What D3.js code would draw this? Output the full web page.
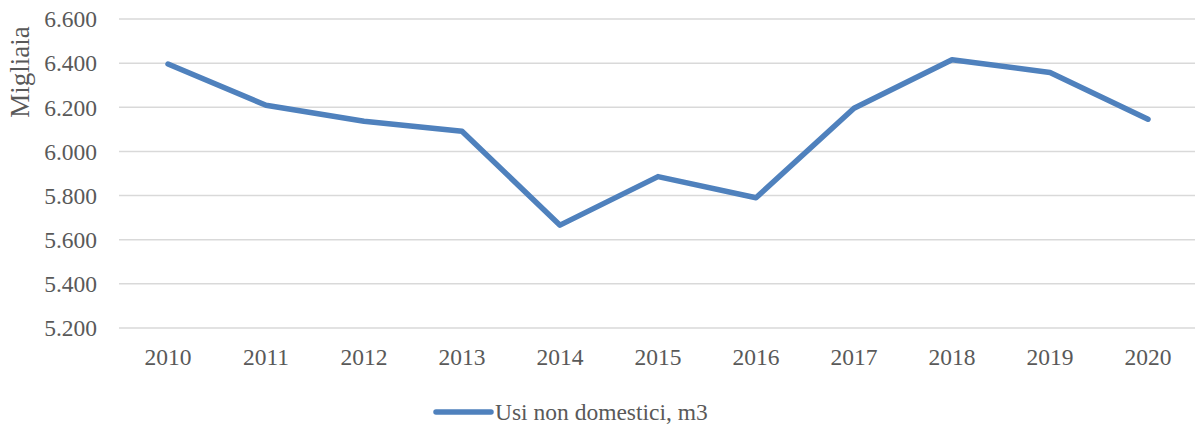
<!DOCTYPE html>
<html>
<head>
    <meta charset="utf-8">
    <script src="https://d3js.org/d3.v7.min.js"></script>
    <style>
        body { margin: 0; background: #fff; }
        text { font-family: "Liberation Serif", "Times New Roman", serif; fill: #595959; }
    </style>
</head>
<body>
    <script>
        // Data
        var years = ["2010", "2011", "2012", "2013", "2014", "2015", "2016", "2017", "2018", "2019", "2020"];
        var values = [6396, 6209, 6137, 6091, 5666, 5886, 5790, 6196, 6415, 6358, 6146];
        var yTicks = [5200, 5400, 5600, 5800, 6000, 6200, 6400, 6600];
        var seriesName = "Usi non domestici, m3";
        var yLabel = "Migliaia";

        var width = 1195, height = 426;
        var margin = { top: 19, right: 0, bottom: 98, left: 119 };
        var fontSize = "23.5px";

        var svg = d3.select("body").append("svg")
            .attr("width", width)
            .attr("height", height);

        var x = d3.scaleBand()
            .domain(years)
            .range([margin.left, 1197]);

        var y = d3.scaleLinear()
            .domain([5200, 6600])
            .range([height - margin.bottom, margin.top]);

        var fmt = function(d) { return d3.format(",")(d).replace(",", "."); };

        // gridlines
        svg.append("g")
            .selectAll("line")
            .data(yTicks)
            .join("line")
            .attr("x1", margin.left)
            .attr("x2", 1197)
            .attr("y1", d => y(d))
            .attr("y2", d => y(d))
            .attr("stroke", "#d9d9d9")
            .attr("stroke-width", 1.5);

        // y tick labels
        svg.append("g")
            .selectAll("text")
            .data(yTicks)
            .join("text")
            .attr("x", 97)
            .attr("y", d => y(d))
            .attr("dy", "0.35em")
            .attr("text-anchor", "end")
            .style("font-size", fontSize)
            .text(fmt);

        // x tick labels
        svg.append("g")
            .selectAll("text")
            .data(years)
            .join("text")
            .attr("x", d => x(d) + x.bandwidth() / 2)
            .attr("y", 365)
            .attr("text-anchor", "middle")
            .style("font-size", fontSize)
            .text(d => d);

        // y axis title
        svg.append("text")
            .attr("transform", "translate(29,72) rotate(-90)")
            .attr("text-anchor", "middle")
            .style("font-size", "27px")
            .text(yLabel);

        // the line
        var line = d3.line()
            .x((d, i) => x(years[i]) + x.bandwidth() / 2)
            .y(d => y(d));

        svg.append("path")
            .datum(values)
            .attr("fill", "none")
            .attr("stroke", "#4f81bd")
            .attr("stroke-width", 5.5)
            .attr("stroke-linejoin", "round")
            .attr("stroke-linecap", "round")
            .attr("d", line);

        // legend
        var legend = svg.append("g").attr("transform", "translate(436,412)");
        legend.append("line")
            .attr("x1", 0).attr("x2", 55)
            .attr("stroke", "#4f81bd")
            .attr("stroke-width", 5.5)
            .attr("stroke-linecap", "round");
        legend.append("text")
            .attr("x", 59)
            .attr("dy", "0.35em")
            .style("font-size", fontSize)
            .text(seriesName);
    </script>
</body>
</html>
